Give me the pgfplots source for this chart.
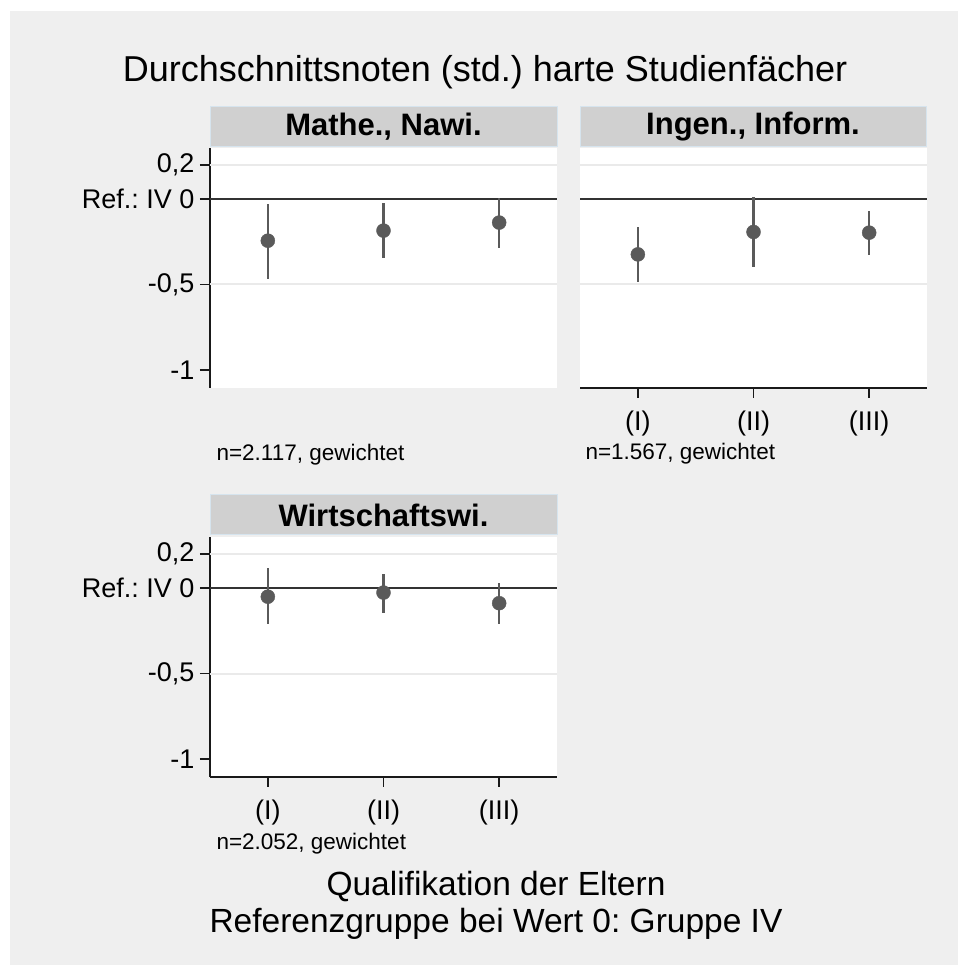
\documentclass[border=0pt]{standalone}
\usepackage{pgfplots}
\pgfplotsset{compat=1.18}
\usepackage{pgfplotstable}
\usepackage{fontspec}
\setmainfont{Liberation Sans}
\frenchspacing

\definecolor{bggray}{RGB}{239,239,239}
\definecolor{stripgray}{RGB}{208,208,208}
\definecolor{stripline}{RGB}{214,228,238}
\definecolor{markgray}{RGB}{90,90,90}
\definecolor{gridgray}{RGB}{234,234,234}

% estimate, CI upper (ep) and lower (em) distances
\pgfplotstableread{
x y ep em
1 -0.244 0.213 0.224
2 -0.185 0.160 0.158
3 -0.138 0.142 0.151
}\mathe
\pgfplotstableread{
x y ep em
1 -0.324 0.158 0.159
2 -0.193 0.203 0.207
3 -0.197 0.129 0.132
}\ingen
\pgfplotstableread{
x y ep em
1 -0.051 0.166 0.161
2 -0.027 0.109 0.121
3 -0.089 0.120 0.122
}\wiwi

\pgfplotsset{
  panel/.style={
    scale only axis, width=347pt, height=240pt, anchor=south west,
    xmin=0.5, xmax=3.5, ymin=-1.105, ymax=0.298,
    axis background/.style={fill=white},
    xtick={1,2,3}, xticklabels={(I),(II),(III)},
    ytick={-1,-0.5,0,0.2}, yticklabels={-1,{-0,5},{Ref.: IV 0},{0,2}},
    xticklabel style={font=\fontsize{27}{27}\selectfont, yshift=-9pt},
    yticklabel style={font=\fontsize{27}{27}\selectfont, xshift=-2pt},
  },
  panelfix/.style={
    axis line style={-, line width=1.6pt, black!90},
    every outer x axis line/.append style={-},
    every outer y axis line/.append style={-},
    tick style={line width=1.6pt, black!90},
    major tick length=10pt, tick align=outside,
  },
  ci/.style={markgray, mark=*, mark size=7pt, only marks,
    error bars/.cd, y dir=both, y explicit, error mark=none,
    error bar style={line width=2.4pt, markgray}},
}

\newcommand{\panelbase}{%
  \addplot[gridgray, line width=2pt, forget plot] coordinates {(0.5,0.2) (3.5,0.2)};
  \addplot[gridgray, line width=2pt, forget plot] coordinates {(0.5,-0.5) (3.5,-0.5)};
  \addplot[black!80, line width=1.8pt, forget plot] coordinates {(0.5,0) (3.5,0)};
}

\begin{document}
\begin{tikzpicture}
\fill[white] (0pt,0pt) rectangle (958pt,965pt);
\fill[bggray] (10pt,0pt) rectangle (958pt,954pt);

\node[font=\fontsize{36}{36}\selectfont] at (485pt,893pt) {Durchschnittsnoten (std.) harte Studienfächer};

% strips
\filldraw[fill=stripgray, draw=stripline, line width=1pt] (210pt,818pt) rectangle (557pt,858pt);
\filldraw[fill=stripgray, draw=stripline, line width=1pt] (580pt,818pt) rectangle (926pt,858pt);
\filldraw[fill=stripgray, draw=stripline, line width=1pt] (210pt,430pt) rectangle (557pt,470pt);
\node[font=\fontsize{31}{31}\selectfont\bfseries] at (383.5pt,838pt) {Mathe., Nawi.};
\node[font=\fontsize{31}{31}\selectfont\bfseries] at (753pt,838pt) {Ingen., Inform.};
\node[font=\fontsize{31}{31}\selectfont\bfseries] at (383.5pt,450pt) {Wirtschaftswi.};

\begin{axis}[panel, at={(210pt,577pt)}, axis x line=none, axis y line=left, panelfix]
\panelbase
\addplot[ci] table[x=x, y=y, y error plus=ep, y error minus=em] {\mathe};
\end{axis}

\begin{axis}[panel, at={(580pt,577pt)}, axis x line=bottom, axis y line=none, panelfix]
\panelbase
\addplot[ci] table[x=x, y=y, y error plus=ep, y error minus=em] {\ingen};
\end{axis}

\begin{axis}[panel, at={(210pt,188pt)}, axis x line=bottom, axis y line=left, panelfix]
\panelbase
\addplot[ci] table[x=x, y=y, y error plus=ep, y error minus=em] {\wiwi};
\end{axis}

\node[anchor=west, font=\fontsize{22.5}{22.5}\selectfont] at (213pt,510pt) {n=2.117, gewichtet};
\node[anchor=west, font=\fontsize{22.5}{22.5}\selectfont] at (582pt,511pt) {n=1.567, gewichtet};
\node[anchor=west, font=\fontsize{22.5}{22.5}\selectfont] at (213pt,121pt) {n=2.052, gewichtet};

\node[font=\fontsize{33.5}{33.5}\selectfont] at (496pt,78pt) {Qualifikation der Eltern};
\node[font=\fontsize{33.5}{33.5}\selectfont] at (496pt,41pt) {Referenzgruppe bei Wert 0: Gruppe IV};

\pgfresetboundingbox
\useasboundingbox (0pt,0pt) rectangle (958pt,965pt);
\end{tikzpicture}
\end{document}
